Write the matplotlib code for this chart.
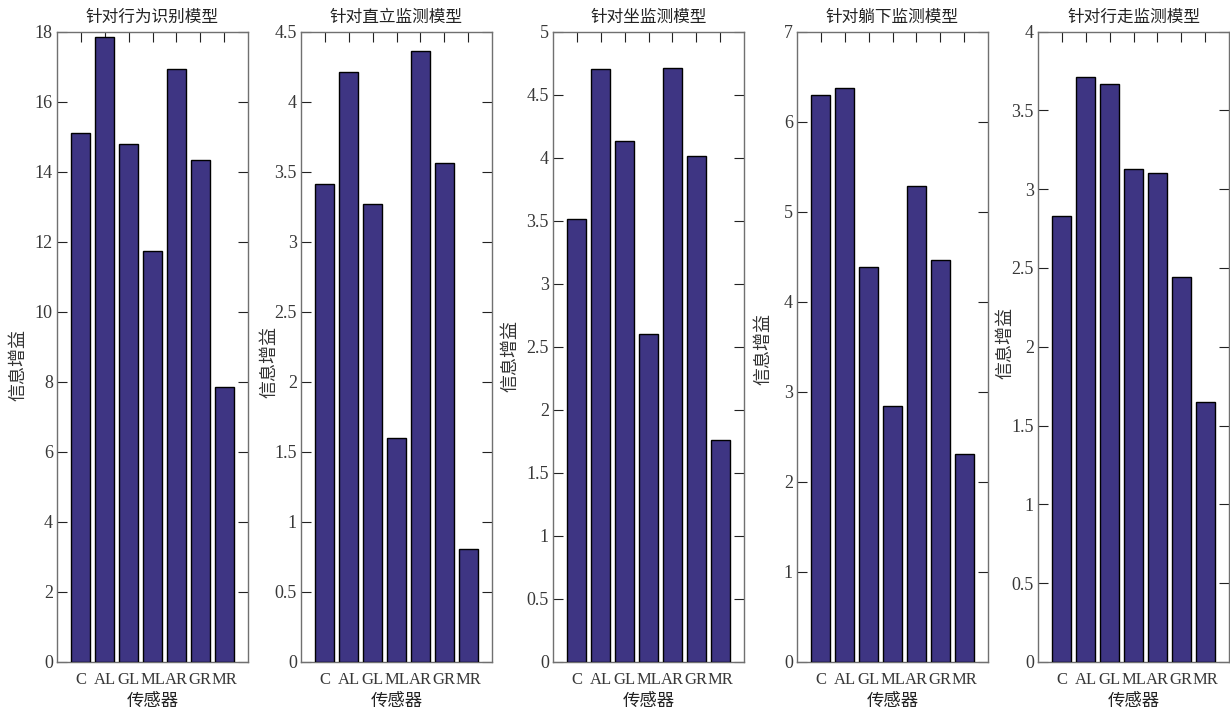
import matplotlib
matplotlib.use("Agg")
import matplotlib.pyplot as plt
import numpy as np
from matplotlib.ticker import FuncFormatter

sensors = ["C", "AL", "GL", "ML", "AR", "GR", "MR"]
titles = ["针对行为识别模型", "针对直立监测模型", "针对坐监测模型", "针对躺下监测模型", "针对行走监测模型"]
gain_behavior = [15.1, 17.83, 14.8, 11.72, 16.94, 14.33, 7.86]
gain_stand = [3.41, 4.21, 3.27, 1.60, 4.36, 3.56, 0.81]
gain_sit = [3.51, 4.70, 4.13, 2.60, 4.71, 4.01, 1.76]
gain_lie = [6.29, 6.37, 4.39, 2.84, 5.29, 4.46, 2.31]
gain_walk = [2.83, 3.71, 3.67, 3.13, 3.10, 2.44, 1.65]
series = [gain_behavior, gain_stand, gain_sit, gain_lie, gain_walk]
ymax = [18, 4.5, 5, 7, 4]
ystep = [2, 0.5, 0.5, 1, 0.5]
ylabel_text = "信息增益"
xlabel_text = "传感器"

W, H = 1230, 713
fig = plt.figure(figsize=(W / 100, H / 100), dpi=100)

lefts = [57, 301, 553, 797, 1038]
ax_w = 191
ax_top, ax_bot = 31.5, 662
ylab_cx = [18, 269, 510, 763, 1005]
ylab_cy = [365, 362, 356, 349, 343]

serif = ["Liberation Serif", "DejaVu Serif"]
cjk = ["Noto Sans CJK SC", "DejaVu Sans"]
bar_color = "#3e3583"
spine_color = "#707070"
text_color = "#383838"

fmt = FuncFormatter(lambda v, p: ("%g" % round(v, 6)))

for i in range(5):
    ax = fig.add_axes([lefts[i] / W, (H - ax_bot) / H, ax_w / W, (ax_bot - ax_top) / H])
    x = np.arange(1, len(sensors) + 1)
    ax.bar(x, series[i], width=0.8, color=bar_color, edgecolor="black", linewidth=1.0, zorder=3)
    ax.set_xlim(0, 8)
    ax.set_ylim(0, ymax[i])
    ax.set_yticks(np.arange(0, ymax[i] + ystep[i] / 2, ystep[i]))
    ax.yaxis.set_major_formatter(fmt)
    ax.set_xticks(x)
    ax.set_xticklabels(sensors, family=serif, fontsize=12, color=text_color)
    for lab in ax.get_yticklabels():
        lab.set_family(serif)
        lab.set_fontsize(13)
        lab.set_color(text_color)
    ax.tick_params(axis="both", direction="in", length=7, width=0.8, color="#222222",
                   top=True, right=True)
    ax.tick_params(axis="y", pad=3)
    ax.tick_params(axis="x", pad=7)
    for s in ax.spines.values():
        s.set_color(spine_color)
        s.set_linewidth(1.0)
    ax.set_title(titles[i], family=cjk, fontsize=12, color="#222222", pad=7)
    ax.set_xlabel(xlabel_text, family=cjk, fontsize=12.5, color="#222222", labelpad=3)
    ax.set_ylabel(ylabel_text, family=cjk, fontsize=13, color="#333333", va="center")
    ax.yaxis.set_label_coords((ylab_cx[i] - lefts[i]) / ax_w, (ax_bot - ylab_cy[i]) / (ax_bot - ax_top))

fig.savefig("out.png", dpi=100)
